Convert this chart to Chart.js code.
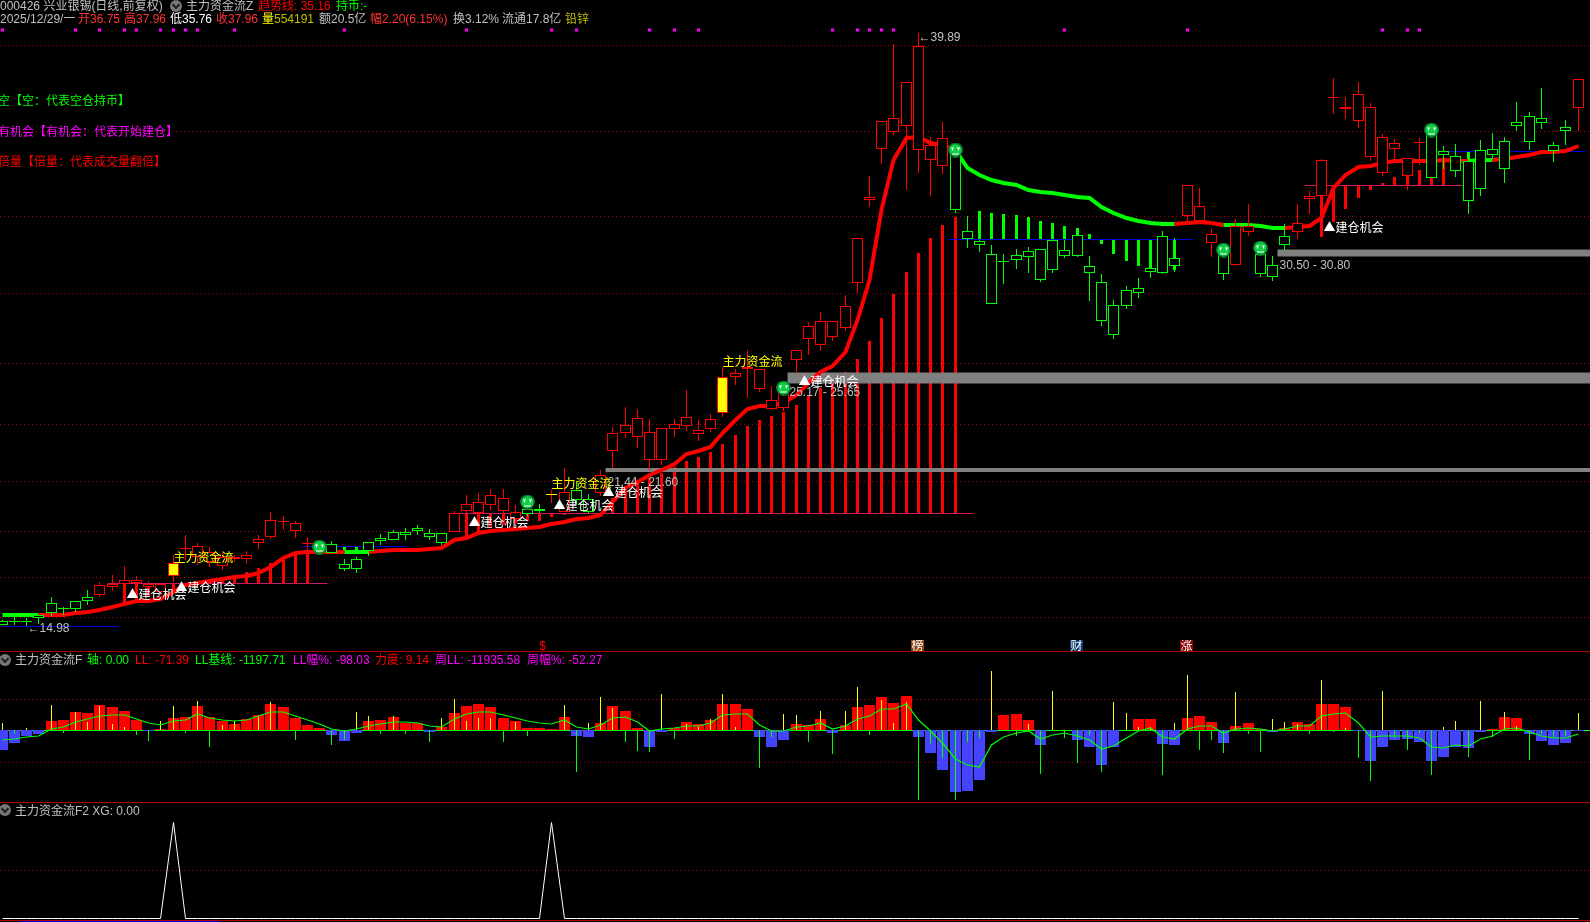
<!DOCTYPE html>
<html>
<head>
<meta charset="utf-8">
<script src="https://cdn.jsdelivr.net/npm/chart.js@4"></script>
<style>
  html, body { margin: 0; padding: 0; background: #000; overflow: hidden; }
  canvas { position: absolute; left: 0; }
  .txt { position: absolute; font: 12px/12px "Liberation Sans", "Noto Sans CJK SC", sans-serif; white-space: pre; }
  .rule { position: absolute; left: 0; width: 1590px; height: 1px; background: #b00000; }
  .knob { position: absolute; width: 12px; height: 12px; border-radius: 50%; background: #777; }
  .knob::after { content: ""; position: absolute; left: 3px; top: 2px; width: 4px; height: 4px;
    border-right: 2px solid #222; border-bottom: 2px solid #222; transform: rotate(45deg); }
</style>
</head>
<body>
<canvas id="mainPane" width="1590" height="651" style="top:0"></canvas>
<canvas id="flowPane" width="1590" height="151" style="top:651px"></canvas>
<canvas id="signalPane" width="1590" height="120" style="top:802px"></canvas>
<div class="rule" style="top:651px"></div>
<div class="rule" style="top:802px"></div>
<div class="rule" style="top:920px"></div>
<div class="knob" style="left:170px;top:0"></div>
<div class="knob" style="left:-1px;top:654px"></div>
<div class="knob" style="left:-1px;top:804px"></div>
<script>
// candle bodies and wicks, prices, one value per trading day
const bodyTop = [
  15.18,15.18,15.18,15.44,15.94,15.73,16.03,16.20,16.70,16.74,
  16.91,16.91,16.74,16.74,17.62,18.25,18.34,18.09,17.88,17.88,
  17.96,18.63,19.43,19.39,19.30,18.46,18.25,18.42,17.58,17.79,
  18.51,18.67,18.93,18.93,19.09,18.88,18.88,19.72,20.10,20.19,
  20.48,20.35,19.77,19.89,19.89,20.52,20.61,20.69,20.31,21.32,
  23.08,23.42,23.71,23.13,23.29,23.46,23.76,23.21,23.67,25.44,
  25.60,25.86,25.77,24.47,24.93,26.57,27.58,27.79,27.79,28.42,
  31.27,33.00,36.19,36.32,37.83,39.35,35.19,35.48,34.97,31.57,
  31.15,30.61,30.31,30.56,30.73,30.82,31.20,30.77,31.41,30.10,
  29.43,28.46,29.09,29.18,30.01,31.36,30.43,33.50,32.62,31.44,
  30.64,31.78,31.78,30.61,30.14,31.36,31.91,33.04,34.55,37.20,
  36.78,37.33,36.78,35.52,35.27,34.64,35.31,35.78,34.93,34.72,
  34.51,34.97,35.02,35.36,36.15,36.41,36.32,35.19,35.95,37.96];
const bodyBottom = [
  15.03,15.14,15.14,15.31,15.52,15.69,15.69,16.03,16.28,16.62,
  16.74,16.78,16.62,16.41,17.08,18.21,17.88,17.67,17.50,17.79,
  17.79,18.46,18.72,19.35,18.97,18.42,18.13,18.04,17.37,17.37,
  18.13,18.55,18.59,18.80,18.97,18.72,18.46,18.93,19.81,19.72,
  20.06,19.81,19.47,19.68,19.81,20.48,19.77,20.27,19.77,20.56,
  22.33,23.08,22.92,21.95,21.95,23.25,23.38,23.04,23.25,23.92,
  25.44,25.77,24.93,24.09,24.13,26.15,27.03,26.78,27.12,27.49,
  29.38,32.87,35.01,35.73,36.00,34.97,34.55,34.30,32.46,31.24,
  30.98,28.51,30.27,30.35,30.48,29.52,29.94,30.52,30.52,29.81,
  27.79,27.20,28.42,28.97,29.85,29.81,30.10,32.20,31.99,31.06,
  29.76,30.14,31.53,29.76,29.63,30.98,31.53,32.91,33.04,37.16,
  36.70,36.19,34.68,34.01,35.02,33.88,35.27,33.80,34.76,34.09,
  32.83,33.34,34.76,34.18,35.99,35.31,36.11,34.94,35.78,36.75];
const wickHigh = [
  15.23,15.52,15.31,15.44,16.20,15.78,16.03,16.49,16.83,17.12,
  17.50,17.08,16.87,16.74,17.96,18.80,18.46,18.30,18.04,17.96,
  18.13,18.80,19.77,19.60,19.39,18.72,18.42,18.55,17.79,17.88,
  18.51,18.84,19.01,19.09,19.22,19.05,18.88,19.81,20.48,20.56,
  20.74,20.74,20.06,19.97,20.10,20.69,21.61,21.07,20.52,21.53,
  23.34,24.18,24.09,23.67,23.29,23.67,24.89,23.63,23.88,25.86,
  25.77,26.57,25.77,25.06,24.97,26.57,27.75,28.17,27.79,28.88,
  31.27,33.88,36.19,39.42,37.83,39.89,35.52,36.15,34.97,32.20,
  31.20,30.98,30.61,30.82,30.90,30.82,31.20,31.20,31.41,30.52,
  29.76,28.67,29.26,29.60,30.01,31.57,31.28,33.50,33.37,31.65,
  30.77,32.07,32.70,30.87,30.52,31.86,32.70,33.25,34.59,38.00,
  37.20,37.83,36.95,35.64,35.44,34.64,35.48,35.82,35.14,35.23,
  34.51,35.40,35.69,35.52,36.99,36.57,37.58,35.31,36.24,37.96];
const wickLow = [
  15.03,15.03,14.98,15.06,15.40,15.44,15.57,15.86,16.20,16.45,
  16.70,16.66,16.49,16.28,16.83,17.75,17.54,17.46,17.33,17.67,
  17.58,18.21,18.63,19.01,18.67,18.09,18.09,18.04,17.29,17.20,
  17.92,18.38,18.59,18.59,18.80,18.59,18.38,18.93,19.43,19.60,
  19.85,19.60,19.22,19.60,19.72,20.14,19.77,20.06,19.72,20.44,
  21.61,22.87,22.45,21.53,21.74,22.92,23.17,22.75,23.13,23.76,
  25.10,24.55,24.81,24.05,24.01,25.60,26.36,26.53,26.95,27.37,
  28.96,32.58,34.38,35.60,33.30,34.00,33.04,33.97,32.33,30.86,
  30.69,28.51,29.35,29.98,29.81,29.43,29.81,30.44,30.48,28.63,
  27.58,27.03,28.29,28.76,29.60,29.76,29.85,31.90,31.90,30.48,
  29.51,30.14,31.36,29.63,29.46,30.77,31.23,32.28,32.66,36.49,
  36.27,35.90,34.51,33.88,34.55,33.30,34.35,33.80,34.18,33.84,
  32.28,33.04,34.60,33.59,35.78,34.97,35.86,34.47,35.19,35.76];
// r red, g green, y yellow body in red frame, o yellow dash
const candleTone =
  'ggggggggrrrrrryrrrrrrrrrrrggggggggggg' +
  'rrrrrrggorggrrrrrrrrrryrrrrrrrrrrrrrrrrrr' +
  'gggggggggggggggggggrrrgrrgggrrrrrrrrrrrggggggggggggr';

// thick trend line
const trendLine = [
  15.44,15.44,15.44,15.42,15.44,15.45,15.52,15.57,15.65,15.78,
  15.90,16.03,16.04,16.11,16.38,16.70,16.78,16.88,16.95,17.04,
  17.08,17.20,17.46,17.83,18.04,18.09,18.10,18.09,18.09,18.09,
  18.09,18.12,18.17,18.17,18.17,18.19,18.25,18.59,18.67,18.88,
  18.97,19.01,19.05,19.09,19.14,19.26,19.35,19.47,19.51,19.64,
  20.19,20.77,21.03,21.32,21.53,21.78,22.20,22.33,22.50,23.08,
  23.63,24.09,24.22,24.22,24.34,24.68,25.18,25.65,25.90,26.49,
  27.83,29.51,32.45,34.55,35.48,35.52,35.27,35.18,34.97,34.21,
  33.92,33.71,33.58,33.50,33.29,33.21,33.17,33.08,33.00,32.96,
  32.58,32.33,32.12,31.99,31.90,31.86,31.86,31.90,31.94,31.90,
  31.82,31.82,31.82,31.78,31.70,31.70,31.74,31.78,32.12,33.37,
  33.92,34.26,34.30,34.43,34.51,34.51,34.51,34.51,34.55,34.51,
  34.51,34.55,34.55,34.60,34.68,34.76,34.89,34.89,34.93,35.16];
const trendGreenRuns = [[0, 3], [28, 30], [78, 96], [100, 105], [120, 122]];

// red sticks hanging off the three crimson base lines
const redStickBases = [16.78, 19.72, 33.51];
const redStickFrom = [10, 38, 108];
const redSticks = [
  [15.90,16.07,16.20,16.41,16.49,16.70,null,null,16.87,17.12,17.25,17.41,17.62,17.88,18.04,18.09],
  [18.76,18.88,19.09,19.22,19.30,19.39,19.39,19.56,19.64,19.68,null,null,
   20.35,20.77,20.98,21.19,21.41,21.66,21.91,22.08,22.29,22.62,23.00,23.38,23.63,23.80,23.97,
   24.26,24.64,24.97,25.31,25.65,26.19,26.95,27.92,28.93,29.85,30.65,31.27,31.82,32.16],
  [31.32,31.95,32.50,32.96,33.29,33.59,33.84,33.92,34.13,33.84,34.47]];
const redBaseRuns = [[8.6, 26.6], [36.5, 79.5], [106.6, 119.6]];

// green sticks on the blue base lines
const greenStickBases = [18.34, 31.23, 34.93];
const greenStickFrom = [28, 80, 120];
const greenSticks = [
  [18.17,18.09],
  [32.42,32.33,32.29,32.25,32.16,31.99,31.91,31.78,31.70,31.45,31.03,30.61,30.31,30.10,30.01,29.93,29.93],
  [34.51,34.55]];
const blueLevels = [14.95, 18.34, 31.23, 34.93];
const blueRuns = [[0, 9.5], [24.5, 33.1], [77.5, 97.5], [117.5, 129.6]];

// grey price zones
const zoneLow = [21.44, 25.17, 30.50];
const zoneHigh = [21.60, 25.65, 30.80];
const zoneFrom = [49.35, 64.3, 104.4];

const smileDays = [26, 43, 64, 78, 100, 103, 117];
const smilePrices = [18.30, 20.19, 24.98, 34.98, 30.77, 30.86, 35.82];
const dotDays = [0,6,8,10,11,13,14,15,16,19,28,38,45,47,53,55,57,68,70,71,72,73,87,97,113,115,116];
const dotPrice = 40.02;

const buildDays = [10, 14, 38, 45, 49, 65, 108];
const buildPrices = [16.32, 16.62, 19.34, 20.06, 20.61, 25.27, 31.74];
const flowDays = [14, 45, 59];
const flowPrices = [17.79, 20.90, 26.03];
const zoneLabels = ['21.44 - 21.60', '25.17 - 25.65', '30.50 - 30.80'];
const zoneLabelPrices = [21.00, 24.76, 30.10];

const mainGrid = [39.39, 35.78, 32.20, 28.97, 26.03, 23.46, 21.07, 18.97, 17.03, 15.35];

// flow pane
const flowBars = [
  -5900,-3800,-1700,-1100,2800,3100,5500,5200,7600,7000,
  5800,3100,-200,300,3700,3900,7300,3900,2800,1900,
  3400,4600,7900,7000,3800,1600,700,-1400,-3200,-800,
  2800,3100,4000,2200,2100,-500,900,5200,7300,7900,
  7000,3700,2800,700,700,400,4000,-1700,-2000,2200,
  7300,5800,700,-5000,-400,800,2500,1900,3100,7900,
  7900,6400,-2000,-5000,-2900,1900,1600,3400,-800,1600,
  7000,7600,10000,8200,10300,-2000,-6800,-11900,-18500,-18200,
  -14900,-500,4600,4900,3100,-4400,100,100,-2900,-5000,
  -10400,-5000,100,3400,3400,-4100,-4400,3700,4300,2500,
  -3800,1300,2200,400,-500,700,2500,1900,7900,7900,
  7000,-200,-9200,-5000,-2900,-2600,-3500,-9200,-8000,-5000,
  -5300,-500,400,4000,3700,-1100,-3200,-4400,-3800,-200];
const flowBaseLine = [
  -2900,-2600,-2000,-1700,300,900,2500,3400,4300,4700,
  4700,3500,2100,1700,2900,3100,4900,3600,3100,2700,
  3100,4400,5400,5400,4300,3100,1800,300,-100,300,
  1300,2000,2500,2400,2100,1300,1100,3300,4900,5500,
  5400,4600,3700,2800,2100,2000,3000,900,300,1500,
  3800,3900,2400,-200,300,600,1300,1400,2100,4500,
  5000,5000,1600,-100,-100,1000,1300,2100,500,1300,
  3400,4300,6300,6300,7800,3100,-100,-3900,-8700,-10300,
  -10900,-4400,-1900,-700,-300,-2700,-1300,-900,-1700,-2900,
  -5600,-4700,-2400,-300,600,-1900,-2700,300,1400,1200,
  -900,500,800,300,-100,500,1200,1300,4400,4800,
  5100,2300,-2000,-1700,-1600,-1600,-2300,-5000,-5400,-4500,
  -4800,-2500,-1700,400,700,-500,-1600,-2400,-2400,-1197];
const upSpikeDays = [0,2,4,6,7,8,9,10,13,14,16,18,19,21,22,29,30,32,36,37,38,39,40,42,46,48,49,50,
  54,56,57,58,59,60,64,65,67,69,70,72,73,74,81,84,86,91,92,93,94,96,97,101,104,105,106,108,110,113,118,119,121,123,124,129];
const upSpikes = [2100,600,7600,5600,2600,7400,1900,1000,2800,7300,8800,1600,2800,3900,8400,5500,4300,4300,3700,9300,2800,3700,3700,2500,7600,2100,10000,6700,
  10900,1900,1000,3400,10900,1000,4900,4600,5800,5800,13000,9100,2200,8500,17800,1900,11800,8500,5200,1000,1000,2200,16600,11500,3400,2500,1900,15100,700,11800,1000,2800,8800,5500,1300,5200];
const downSpikeDays = [1,5,11,12,15,17,24,27,28,31,33,35,41,43,47,51,52,53,55,62,63,66,68,71,75,76,77,78,79,80,83,85,87,88,89,90,
  95,98,99,100,102,103,107,109,111,112,114,115,116,117,120,122,125,126,127,128];
const downSpikes = [-1100,-700,-1400,-3200,-700,-5000,-2900,-4400,-2900,-1100,-1100,-3500,-3500,-1700,-12500,-3500,-6200,-6500,-2600,-11300,-2000,-3500,-7100,-1400,-20900,-4100,-8300,-20900,-3500,-2300,-1700,-13100,-2300,-9800,-1400,-12500,
  -13400,-5900,-2900,-6800,-1100,-6500,-1100,-500,-8300,-15200,-2300,-5900,-800,-13400,-8000,-2000,-8900,-1100,-2300,-1700];

// signal pane: spikes on day 14 and day 45
const signalLine = [];
for (let i = 0; i < 130; i++) signalLine.push(i === 14 || i === 45 ? 1 : 0);

Chart.defaults.animation = false;

// x runs over the whole canvas, day 0 sits 2px in from the left
const xMin = -0.175, xMax = 129.98;
const days = (arr, from = 0) => arr.map((v, i) => ({ x: i + from, y: v })).filter(p => p.y !== null);
const pick = (dayList, vals) => dayList.map((d, i) => ({ x: d, y: vals[i] }));
const xScale = { type: 'linear', display: false, min: xMin, max: xMax, offset: false };
const gridOf = (vals, min, max) => ({
  type: 'linear', min, max,
  ticks: { display: false },
  border: { display: false, dash: [1, 3] },
  grid: { color: '#a00000', drawTicks: false },
  afterBuildTicks: a => { a.ticks = vals.map(v => ({ value: v })); }
});

// the source terminal draws on whole pixels, so snap the scales the same way
const snapPlugin = (yHalf) => ({
  id: 'snap',
  afterLayout(chart) {
    const { x, y } = chart.scales;
    if (x._snapped) return;
    x._snapped = true;
    const px = x.getPixelForValue.bind(x), py = y.getPixelForValue.bind(y);
    x.getPixelForValue = v => Math.floor(px(v)) + 0.5;
    y.getPixelForValue = yHalf ? v => Math.floor(py(v)) + 0.5 : v => Math.round(py(v));
  },
  beforeDatasetDraw(chart, args) {
    if (chart.data.datasets[args.index].crisp) { chart.ctx.save(); chart.ctx.translate(0, 0.5); }
  },
  afterDatasetDraw(chart, args) {
    if (chart.data.datasets[args.index].crisp) chart.ctx.restore();
  }
});

function smileSprite() {
  const c = document.createElement('canvas');
  c.width = 15; c.height = 15;
  const g = c.getContext('2d');
  g.fillStyle = '#0a7a2a'; g.beginPath(); g.arc(7.5, 7.5, 7.5, 0, Math.PI * 2); g.fill();
  g.fillStyle = '#10d048'; g.beginPath(); g.arc(7.5, 7.5, 6, 0, Math.PI * 2); g.fill();
  g.fillStyle = '#fff';
  g.fillRect(3, 5, 3, 1); g.fillRect(9, 5, 3, 1); g.fillRect(4, 6, 1, 2); g.fillRect(10, 6, 1, 2);
  g.fillRect(4, 11, 7, 1);
  return c;
}

const bodyColor = t => (t === 'g' ? '#00ff00' : t === 'o' ? '#ffff00' : '#ff0000');
const inGreen = i => trendGreenRuns.some(r => i >= r[0] && i <= r[1]);

const mainSets = [];
mainSets.push({
  type: 'line', data: pick(dotDays, dotDays.map(() => dotPrice)), showLine: false,
  pointStyle: 'rect', pointRadius: 2.2, pointBackgroundColor: '#ff00ff', pointBorderWidth: 0, order: 0
});
mainSets.push({
  type: 'line', data: pick(smileDays, smilePrices), showLine: false,
  pointStyle: smileSprite(), pointRadius: 7.5, order: 1, clip: false
});
mainSets.push({
  data: bodyTop.map((v, i) => ({ x: i, y: [bodyBottom[i], v] })),
  barThickness: 11, borderWidth: 1, borderSkipped: false, order: 2, clip: false,
  borderColor: c => bodyColor(candleTone[c.dataIndex]),
  backgroundColor: c => (candleTone[c.dataIndex] === 'y' || candleTone[c.dataIndex] === 'o' ? '#ffff00' : '#000')
});
mainSets.push({
  data: wickHigh.map((v, i) => ({ x: i, y: [wickLow[i], v] })),
  barThickness: 1, borderWidth: 0, order: 3, clip: false,
  backgroundColor: c => (candleTone[c.dataIndex] === 'g' ? '#00ff00' : '#ff0000')
});
mainSets.push({
  type: 'line', data: days(trendLine), borderWidth: 4, pointRadius: 0, order: 4, clip: false,
  borderColor: '#ff0000', borderCapStyle: 'butt',
  segment: { borderColor: c => (inGreen(c.p0DataIndex) && inGreen(c.p1DataIndex) ? '#00ff00' : '#ff0000') }
});
zoneLow.forEach((lo, i) => {
  const mid = (lo + zoneHigh[i]) / 2;
  const thick = [4, 11, 7][i];
  mainSets.push({
    type: 'line', data: [{ x: zoneFrom[i], y: mid }, { x: xMax, y: mid }],
    borderColor: '#808080', borderWidth: thick, pointRadius: 0, borderCapStyle: 'butt', order: 5
  });
});
redBaseRuns.forEach((r, i) => {
  mainSets.push({
    type: 'line', data: [{ x: r[0], y: redStickBases[i] }, { x: r[1], y: redStickBases[i] }],
    borderColor: '#d01860', borderWidth: 1, pointRadius: 0, order: 6, crisp: true
  });
  mainSets.push({
    data: days(redSticks[i], redStickFrom[i]).map(p => ({ x: p.x, y: [redStickBases[i], p.y] })),
    barThickness: 3, borderWidth: 0, backgroundColor: '#ff0000', order: 8
  });
});
blueRuns.forEach((r, i) => {
  mainSets.push({
    type: 'line', data: [{ x: r[0], y: blueLevels[i] }, { x: r[1], y: blueLevels[i] }],
    borderColor: '#0000e0', borderWidth: 1, pointRadius: 0, order: 7, crisp: true
  });
});
greenSticks.forEach((s, i) => {
  mainSets.push({
    data: days(s, greenStickFrom[i]).map(p => ({ x: p.x, y: [greenStickBases[i], p.y] })),
    barThickness: 3, borderWidth: 0, backgroundColor: '#00ff00', order: 8
  });
});

const labelFont = '12px "Liberation Sans", "Noto Sans CJK SC", sans-serif';
const markerPlugin = {
  id: 'markers',
  afterDatasetsDraw(chart) {
    const { ctx, scales: { x, y } } = chart;
    ctx.save();
    ctx.font = labelFont;
    ctx.textBaseline = 'middle';
    ctx.textAlign = 'left';
    ctx.fillStyle = '#c0c0c0';
    zoneLabels.forEach((t, i) => ctx.fillText(t, x.getPixelForValue(zoneFrom[i]) + 2, y.getPixelForValue(zoneLabelPrices[i])));
    ctx.fillText('←39.89', x.getPixelForValue(75), y.getPixelForValue(39.89) + 5);
    ctx.fillText('←14.98', x.getPixelForValue(2) + 1, y.getPixelForValue(14.98) + 3);
    ctx.fillStyle = '#ffff00';
    flowDays.forEach((d, i) => ctx.fillText('主力资金流', x.getPixelForValue(d), y.getPixelForValue(flowPrices[i])));
    ctx.font = '12px "Noto Sans CJK SC", sans-serif';
    ctx.fillStyle = '#ffffff';
    buildDays.forEach((d, i) => ctx.fillText('▲建仓机会', x.getPixelForValue(d) + 2, y.getPixelForValue(buildPrices[i])));
    ctx.restore();
  }
};

const baseOptions = {
  responsive: false,
  events: [],
  layout: { padding: 0, autoPadding: false },
  datasets: { bar: { grouped: false, inflateAmount: 0 } },
  plugins: { legend: { display: false }, tooltip: { enabled: false } }
};

new Chart(document.querySelector('#mainPane').getContext('2d'), {
  type: 'bar',
  data: { datasets: mainSets },
  options: { ...baseOptions, scales: { x: xScale, y: gridOf(mainGrid, 13.92, 41.28) } },
  plugins: [snapPlugin(false), markerPlugin]
});

new Chart(document.querySelector('#flowPane').getContext('2d'), {
  type: 'bar',
  data: {
    datasets: [
      { type: 'line', data: days(flowBaseLine), borderColor: '#00ff00', borderWidth: 1.2, pointRadius: 0, order: 1 },
      {
        data: pick(upSpikeDays, upSpikes).map(p => ({ x: p.x, y: [0, p.y] })),
        barThickness: 1, borderWidth: 0, backgroundColor: '#ffff00', order: 2
      },
      {
        data: pick(downSpikeDays, downSpikes).map(p => ({ x: p.x, y: [p.y, 0] })),
        barThickness: 1, borderWidth: 0, backgroundColor: '#00ff00', order: 2
      },
      {
        data: days(flowBars).map(p => ({ x: p.x, y: p.y > 0 ? [0, p.y] : [p.y, 0] })),
        barThickness: 11, borderWidth: 0, order: 3,
        backgroundColor: c => (flowBars[c.dataIndex] > 0 ? '#ff0000' : '#4444ff')
      },
      { type: 'line', data: [{ x: xMin, y: 0 }, { x: xMax, y: 0 }], borderColor: '#00ff00', borderWidth: 1, pointRadius: 0, order: 4, crisp: true }
    ]
  },
  options: { ...baseOptions, scales: { x: xScale, y: gridOf([9300, -9600], -21510, 23790) } },
  plugins: [snapPlugin(false)]
});

new Chart(document.querySelector('#signalPane').getContext('2d'), {
  type: 'line',
  data: {
    datasets: [
      { data: days(signalLine), borderColor: '#ffffff', borderWidth: 1, pointRadius: 0 },
      { data: [{ x: 1.5, y: -0.03 }, { x: 17.8, y: -0.03 }], borderColor: '#0000e0', borderWidth: 1, pointRadius: 0 }
    ]
  },
  options: { ...baseOptions, scales: { x: xScale, y: gridOf([0.5], -0.0385, 1.2115) } },
  plugins: [snapPlugin(true)]
});

// header rows and the small tags above the flow pane
const headerBits = [
  ['000426 兴业银锡(日线,前复权)', 0, 0, '#c0c0c0'],
  ['主力资金流Z', 186, 0, '#c0c0c0'],
  ['趋势线: 35.16', 258, 0, '#ff0000'],
  ['持币:-', 336, 0, '#00ff00'],
  ['2025/12/29/一', 0, 13, '#c0c0c0'],
  ['开36.75', 78, 13, '#ff3232'],
  ['高37.96', 124, 13, '#ff3232'],
  ['低35.76', 170, 13, '#ffffff'],
  ['收37.96', 216, 13, '#ff3232'],
  ['量', 262, 13, '#ffff00'],
  ['554191', 274, 13, '#c0c000'],
  ['额20.5亿', 319, 13, '#c0c0c0'],
  ['幅2.20(6.15%)', 370, 13, '#ff3232'],
  ['换3.12%', 453, 13, '#c0c0c0'],
  ['流通17.8亿', 502, 13, '#c0c0c0'],
  ['铅锌', 565, 13, '#c0c000'],
  ['空【空：代表空仓持币】', -2, 95, '#00ff00'],
  ['有机会【有机会：代表开始建仓】', -2, 126, '#ff00ff'],
  ['倍量【倍量：代表成交量翻倍】', -2, 156, '#ff0000'],
  ['主力资金流F', 15, 654, '#c0c0c0'],
  ['轴: 0.00', 87, 654, '#00ff00'],
  ['LL: -71.39', 135, 654, '#ff0000'],
  ['LL基线: -1197.71', 195, 654, '#00ff00'],
  ['LL幅%: -98.03', 293, 654, '#ff00ff'],
  ['力度: 9.14', 375, 654, '#ff0000'],
  ['周LL: -11935.58', 435, 654, '#ff00ff'],
  ['周幅%: -52.27', 527, 654, '#ff00ff'],
  ['主力资金流F2 XG: 0.00', 15, 805, '#c0c0c0']
];
const tagBits = [
  ['$', 536, '#ff0000', 'transparent'],
  ['榜', 911, '#ffffff', '#8b4513'],
  ['财', 1070, '#ffffff', '#0a3a6e'],
  ['涨', 1180, '#ffffff', '#8b0000']
];
headerBits.forEach(([text, left, top, color]) => {
  const s = document.createElement('span');
  s.className = 'txt';
  s.textContent = text;
  s.style.cssText = `left:${left}px;top:${top}px;color:${color}`;
  document.body.appendChild(s);
});
tagBits.forEach(([text, left, color, bg]) => {
  const s = document.createElement('span');
  s.className = 'txt';
  s.textContent = text;
  s.style.cssText = `left:${left}px;top:640px;height:11px;width:13px;overflow:hidden;text-align:center;color:${color};background:${bg}`;
  document.body.appendChild(s);
});
</script>
</body>
</html>
